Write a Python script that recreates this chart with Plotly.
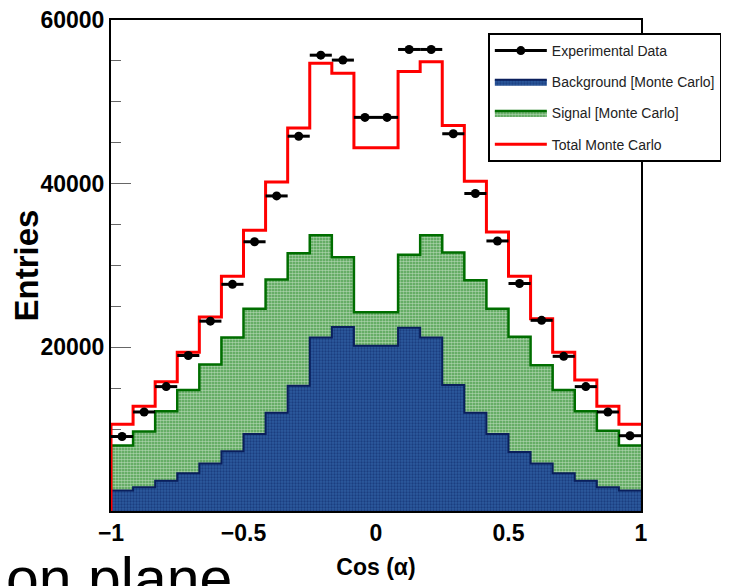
import numpy as np
import plotly.graph_objects as go

# ---------------- data ----------------
n_bins = 24
bin_edges = np.linspace(-1.0, 1.0, n_bins + 1)
bin_centers = (bin_edges[:-1] + bin_edges[1:]) / 2
half_width = (bin_edges[1] - bin_edges[0]) / 2

experimental_data = [9100, 12100, 15200, 19000, 23200, 27700, 32900, 38500, 45800, 55700, 55100, 48100,
                     48100, 56400, 56400, 46100, 38800, 33000, 27800, 23300, 18900, 15200, 12100, 9200]
total_mc = [10600, 12800, 15800, 19400, 23700, 28700, 34300, 40200, 46800, 54700, 53500, 44400,
            44400, 53700, 54900, 47100, 40300, 34100, 28700, 23500, 19400, 16000, 12800, 10600]
signal_mc = [8000, 9700, 12200, 14800, 17900, 21200, 24700, 28300, 31500, 33700, 31000, 24300,
             24300, 31300, 33700, 31600, 28200, 24700, 21300, 17800, 14800, 12200, 9800, 8000]
background_mc = [2500, 2900, 3700, 4600, 5800, 7300, 9400, 12000, 15300, 21200, 22500, 20200,
                 20200, 22400, 21200, 15400, 12000, 9400, 7200, 5800, 4600, 3700, 2900, 2500]

x_tick_vals = [-1, -0.5, 0, 0.5, 1]
x_tick_text = ["\u22121", "\u22120.5", "0", "0.5", "1"]
y_tick_vals = [20000, 40000, 60000]
y_tick_text = ["20000", "40000", "60000"]

legend_names = ["Experimental Data", "Background [Monte Carlo]", "Signal [Monte Carlo]", "Total Monte Carlo"]


def step_xy(values):
    xs = [bin_edges[0]] + list(bin_edges)
    ys = [0] + list(values) + [values[-1]]
    return xs, ys


FONT = "Liberation Sans, Arial, Helvetica, sans-serif"

fig = go.Figure()

# Signal (drawn first, from zero)
sx, sy = step_xy(signal_mc)
fig.add_trace(go.Scatter(
    x=sx, y=sy, mode="lines", line=dict(shape="hv", color="#006e00", width=2.5),
    fill="tozeroy",
    fillpattern=dict(shape=".", bgcolor="#4a9e4a", fgcolor="#ffffff", size=3, solidity=0.6),
    name=legend_names[2], legendrank=3, legendgroup="c",
))

# Background (overlaid, from zero)
bx, by = step_xy(background_mc)
fig.add_trace(go.Scatter(
    x=bx, y=by, mode="lines", line=dict(shape="hv", color="#0a1f5c", width=2),
    fill="tozeroy",
    fillpattern=dict(shape=".", bgcolor="#2c5a9e", fgcolor="#0a2260", size=3, solidity=0.45),
    name=legend_names[1], legendrank=2, legendgroup="b",
))

# Total MC
tx, ty = step_xy(total_mc)
fig.add_trace(go.Scatter(
    x=tx, y=ty, mode="lines", line=dict(shape="hv", color="#ff0000", width=3),
    name=legend_names[3], legendrank=4, legendgroup="d",
))

# Experimental data
fig.add_trace(go.Scatter(
    x=bin_centers, y=experimental_data, mode="markers",
    marker=dict(color="black", size=9),
    error_x=dict(type="constant", value=half_width, color="black", thickness=3, width=0),
    showlegend=False,
))
# legend entry for data (line + marker, as in the reference)
fig.add_trace(go.Scatter(
    x=[None], y=[None], mode="lines+markers",
    line=dict(color="black", width=3), marker=dict(color="black", size=9),
    name=legend_names[0], legendrank=1, legendgroup="a",
))

fig.add_annotation(
    text="on plane", xref="paper", yref="paper", x=-0.2025, y=-0.067,
    xanchor="left", yanchor="top", showarrow=False,
    font=dict(family=FONT, size=59, color="black"),
)

# the page places the figure 8px from the top-left corner, so the figure is
# made 8px smaller and margins shifted accordingly
fig.update_layout(
    width=721, height=578,
    margin=dict(l=103, r=88, t=12, b=75, autoexpand=False),
    paper_bgcolor="white", plot_bgcolor="white",
    font=dict(family=FONT, color="black"),
    showlegend=True,
    legend=dict(
        x=0.711, y=0.9735, xanchor="left", yanchor="top",
        bgcolor="white", bordercolor="black", borderwidth=2,
        font=dict(family=FONT, size=14, color="#222"),
        tracegroupgap=10, itemwidth=52,
        traceorder="grouped",
    ),
    xaxis=dict(
        range=[-1, 1], tickmode="array", tickvals=x_tick_vals, ticktext=x_tick_text,
        ticks="", showgrid=False, zeroline=False, automargin=False,
        ticklabeloverflow="allow",
        showline=True, linecolor="black", linewidth=2, mirror=True,
        tickfont=dict(family=FONT, size=23, weight="bold"),
        title=dict(text="Cos (\u03b1)", font=dict(family=FONT, size=23, weight="bold"), standoff=14),
        layer="below traces",
    ),
    yaxis=dict(
        range=[0, 60000], tickmode="array", tickvals=y_tick_vals, ticktext=y_tick_text,
        ticks="inside", ticklen=20, tickwidth=1, tickcolor="#666",
        minor=dict(tickmode="linear", tick0=0, dtick=5000, ticks="inside", ticklen=10, tickcolor="#666", tickwidth=1),
        showgrid=False, zeroline=False, automargin=False,
        ticklabeloverflow="allow",
        showline=True, linecolor="black", linewidth=2, mirror=True,
        tickfont=dict(family=FONT, size=23, weight="bold"),
        title=dict(text="Entries", font=dict(family=FONT, size=33, weight="bold"), standoff=5),
        layer="below traces",
    ),
)

fig.write_html("out.html")
